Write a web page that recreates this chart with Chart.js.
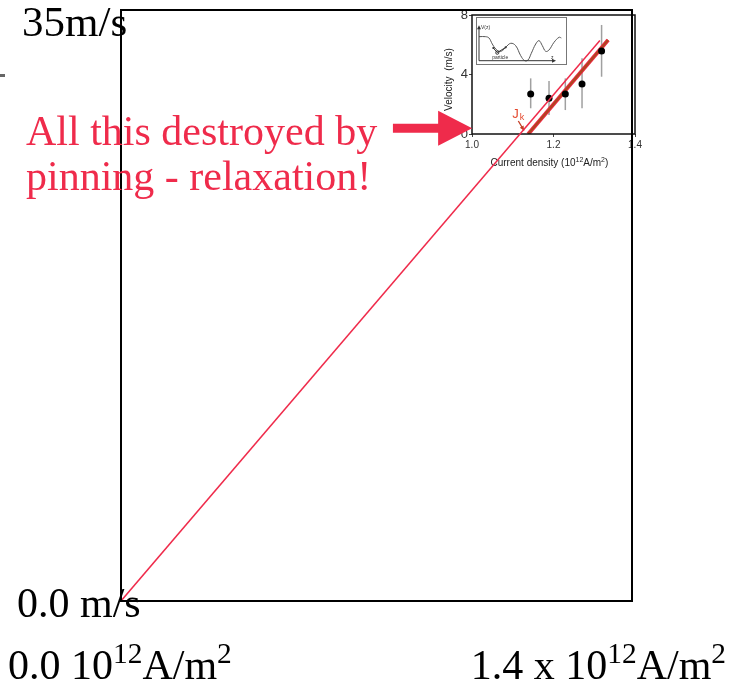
<!DOCTYPE html>
<html lang="en">
<head>
<meta charset="UTF-8">
<title>Domain wall velocity vs current density</title>
<script src="https://cdn.jsdelivr.net/npm/chart.js"></script>
<style>
  html, body { margin: 0; padding: 0; background: #fff; }
  #wrap { position: relative; width: 750px; height: 689px; overflow: hidden; }
  #wrap canvas { position: absolute; }
</style>
</head>
<body>
<div id="wrap">
  <canvas id="insetChart" width="230" height="180" style="left:420px;top:0px"></canvas>
  <canvas id="sketchChart" width="91" height="48" style="left:476px;top:17px"></canvas>
  <canvas id="mainChart" width="750" height="689" style="left:0px;top:0px"></canvas>
</div>
<script>
// main panel: ideal (no pinning) velocity line
const mainCurrent = [0.0, 1.312];
const mainVelocity = [0.0, 33.2];
const mainYLabels = ['0.0 m/s', '35m/s'];
// [text, isSuperscript]
const mainXLabelLeft = [['0.0 10', 0], ['12', 1], ['A/m', 0], ['2', 1]];
const mainXLabelRight = [['1.4 x 10', 0], ['12', 1], ['A/m', 0], ['2', 1]];
const noteLines = ['All this destroyed by', 'pinning - relaxation!'];
const noteArrowFrom = [0.745, 28.0];
const noteArrowTo = [0.962, 28.0];

// inset: measured wall velocities
const insetCurrent = [1.144, 1.189, 1.229, 1.270, 1.318];
const insetVelocity = [2.69, 2.40, 2.69, 3.36, 5.58];
const insetErrLow = [1.73, 1.28, 1.61, 1.73, 3.85];
const insetErrHigh = [3.74, 3.56, 3.74, 5.09, 7.33];
const fitCurrent = [1.138, 1.334];
const fitVelocity = [0.0, 6.32];
const insetXTitle = [['Current density (10', 0], ['12', 1], ['A/m', 0], ['2', 1], [')', 0]];
const insetYTitle = 'Velocity  (m/s)';

// potential landscape sketch V(z)
const sketchZ = [0, 0.89, 1.33, 1.77, 2.23, 2.67, 3.11, 3.56, 4.23, 4.89, 5.56, 6.09, 6.53, 6.97, 7.56, 8.0, 8.44, 8.89, 9.33, 10.0, 10.67, 10.97];
const sketchV = [7.19, 7.19, 6.8, 5.0, 3.5, 2.81, 2.99, 4.01, 5.21, 4.49, 1.5, 0, 0.2, 2.2, 5.0, 6.0, 4.5, 2.8, 3.2, 5.5, 7.0, 6.8];

const RED = '#ef2b4b';
const SERIF = '"Liberation Serif", "Times New Roman", serif';
const SANS = '"Liberation Sans", Arial, sans-serif';

function pts(xs, ys) { return xs.map((x, i) => ({ x: x, y: ys[i] })); }

// draws text runs with superscripts, left aligned at (x, baseline y)
function drawRich(ctx, runs, x, y, size, family, color) {
  ctx.fillStyle = color;
  ctx.textAlign = 'left';
  ctx.textBaseline = 'alphabetic';
  let cx = x;
  runs.forEach(([t, sup]) => {
    const s = sup ? size * 0.7 : size;
    ctx.font = s + 'px ' + family;
    ctx.fillText(t, cx, sup ? y - size * 0.38 : y);
    cx += ctx.measureText(t).width;
  });
  return cx - x;
}
function richWidth(ctx, runs, size, family) {
  let w = 0;
  runs.forEach(([t, sup]) => {
    ctx.font = (sup ? size * 0.7 : size) + 'px ' + family;
    w += ctx.measureText(t).width;
  });
  return w;
}

const mainDecor = {
  id: 'mainDecor',
  afterDraw(chart) {
    const { ctx, chartArea: a, scales: { x, y } } = chart;
    ctx.save();
    // frame
    ctx.strokeStyle = '#000';
    ctx.lineWidth = 2;
    ctx.strokeRect(a.left, a.top, a.right - a.left, a.bottom - a.top);

    // axis end labels
    ctx.fillStyle = '#000';
    ctx.font = '43px ' + SERIF;
    ctx.textBaseline = 'alphabetic';
    ctx.textAlign = 'left';
    ctx.fillText(mainYLabels[1], a.left - 99, y.getPixelForValue(35) + 26);
    ctx.font = '42px ' + SERIF;
    ctx.fillText(mainYLabels[0], a.left - 104, y.getPixelForValue(0) + 16);
    drawRich(ctx, mainXLabelLeft, x.getPixelForValue(0) - 113, a.bottom + 78, 42, SERIF, '#000');
    const rw = richWidth(ctx, mainXLabelRight, 42, SERIF);
    drawRich(ctx, mainXLabelRight, x.getPixelForValue(1.4) + 94 - rw, a.bottom + 78, 42, SERIF, '#000');

    // stray mark at the left edge
    ctx.fillStyle = '#666';
    ctx.fillRect(0, 74, 5, 3);

    // note text
    ctx.fillStyle = RED;
    ctx.font = '42px ' + SERIF;
    noteLines.forEach((t, i) => ctx.fillText(t, a.left - 95, a.top + 135 + i * 45));

    // block arrow pointing at the inset
    const x0 = x.getPixelForValue(noteArrowFrom[0]);
    const x1 = x.getPixelForValue(noteArrowTo[0]);
    const yc = y.getPixelForValue(noteArrowFrom[1]);
    const head = 34;
    ctx.beginPath();
    ctx.moveTo(x0, yc - 4.5);
    ctx.lineTo(x1 - head, yc - 4.5);
    ctx.lineTo(x1 - head, yc - 17.5);
    ctx.lineTo(x1, yc);
    ctx.lineTo(x1 - head, yc + 17.5);
    ctx.lineTo(x1 - head, yc + 4.5);
    ctx.lineTo(x0, yc + 4.5);
    ctx.closePath();
    ctx.fill();
    ctx.restore();
  }
};

new Chart(document.getElementById('mainChart'), {
  type: 'scatter',
  data: {
    datasets: [{
      data: pts(mainCurrent, mainVelocity),
      showLine: true,
      borderColor: RED,
      borderWidth: 1.5,
      pointRadius: 0
    }]
  },
  options: {
    responsive: false,
    animation: false,
    layout: { padding: { left: 121, top: 10, right: 118, bottom: 88 } },
    scales: {
      x: { type: 'linear', min: 0, max: 1.4, display: false },
      y: { type: 'linear', min: 0, max: 35, display: false }
    },
    plugins: { legend: { display: false }, tooltip: { enabled: false } }
  },
  plugins: [mainDecor]
});

const insetDecor = {
  id: 'insetDecor',
  beforeDatasetsDraw(chart) {
    const { ctx, scales: { x, y } } = chart;
    ctx.save();
    ctx.strokeStyle = '#a0a0a0';
    ctx.lineWidth = 1.5;
    insetCurrent.forEach((c, i) => {
      const px = x.getPixelForValue(c);
      ctx.beginPath();
      ctx.moveTo(px, y.getPixelForValue(insetErrLow[i]));
      ctx.lineTo(px, y.getPixelForValue(insetErrHigh[i]));
      ctx.stroke();
    });
    ctx.restore();
  },
  afterDraw(chart) {
    const { ctx, chartArea: a, scales: { x, y } } = chart;
    ctx.save();
    ctx.strokeStyle = '#111';
    ctx.lineWidth = 1.5;
    ctx.strokeRect(a.left, a.top, a.right - a.left, a.bottom - a.top);

    // axis titles
    ctx.fillStyle = '#222';
    ctx.font = '10px ' + SANS;
    ctx.textAlign = 'center';
    ctx.textBaseline = 'middle';
    ctx.save();
    ctx.translate(a.left - 23, y.getPixelForValue(4) + 5);
    ctx.rotate(-Math.PI / 2);
    ctx.fillText(insetYTitle, 0, 0);
    ctx.restore();
    const tw = richWidth(ctx, insetXTitle, 10, SANS);
    drawRich(ctx, insetXTitle, x.getPixelForValue(1.19) - tw / 2, a.bottom + 32, 10, SANS, '#222');

    // J_k marker
    ctx.fillStyle = '#e4472c';
    ctx.font = '13px ' + SANS;
    ctx.textAlign = 'left';
    ctx.textBaseline = 'alphabetic';
    const jx = x.getPixelForValue(1.099), jy = y.getPixelForValue(1.06);
    ctx.fillText('J', jx, jy);
    ctx.font = '9px ' + SANS;
    ctx.fillText('k', jx + ctx.measureText('J').width + 3, jy + 2);
    const ax0 = x.getPixelForValue(1.1137), ay0 = y.getPixelForValue(0.874);
    const ax1 = x.getPixelForValue(1.1276), ay1 = y.getPixelForValue(0.235);
    ctx.strokeStyle = '#c23a20';
    ctx.fillStyle = '#c23a20';
    ctx.lineWidth = 1.3;
    ctx.beginPath();
    ctx.moveTo(ax0, ay0);
    ctx.lineTo(ax1, ay1);
    ctx.stroke();
    const ang = Math.atan2(ay1 - ay0, ax1 - ax0);
    ctx.beginPath();
    ctx.moveTo(ax1, ay1);
    ctx.lineTo(ax1 - 5 * Math.cos(ang - 0.45), ay1 - 5 * Math.sin(ang - 0.45));
    ctx.lineTo(ax1 - 5 * Math.cos(ang + 0.45), ay1 - 5 * Math.sin(ang + 0.45));
    ctx.closePath();
    ctx.fill();
    ctx.restore();
  }
};

new Chart(document.getElementById('insetChart'), {
  type: 'scatter',
  data: {
    datasets: [
      { data: pts(insetCurrent, insetVelocity), pointRadius: 3.5, backgroundColor: '#000', borderWidth: 0, order: 0 },
      { data: pts(fitCurrent, fitVelocity), showLine: true, borderColor: '#b0451f', borderWidth: 2, pointRadius: 0, order: 1 },
      { data: pts(fitCurrent, fitVelocity), showLine: true, borderColor: '#ee2a45', borderWidth: 4, pointRadius: 0, order: 2 }
    ]
  },
  options: {
    responsive: false,
    animation: false,
    layout: { padding: { left: 36, top: 15, right: 15, bottom: 28 } },
    scales: {
      x: {
        type: 'linear', min: 1.0, max: 1.4,
        afterFit: s => { s.height = 18; },
        border: { display: false },
        grid: { drawOnChartArea: false, tickLength: 3, tickColor: '#444' },
        ticks: { stepSize: 0.2, padding: 2, color: '#333', font: { size: 10, family: SANS }, maxRotation: 0,
                 callback: v => v.toFixed(1) }
      },
      y: {
        type: 'linear', min: 0, max: 8,
        afterFit: s => { s.width = 16; },
        border: { display: false },
        grid: { drawOnChartArea: false, tickLength: 3, tickColor: '#444' },
        ticks: { stepSize: 4, padding: 1, color: '#333', font: { size: 13, family: SANS } }
      }
    },
    plugins: { legend: { display: false }, tooltip: { enabled: false } }
  },
  plugins: [insetDecor]
});

const sketchDecor = {
  id: 'sketchDecor',
  afterDraw(chart) {
    const { ctx, chartArea: a, scales: { x, y } } = chart;
    ctx.save();
    ctx.strokeStyle = '#777';
    ctx.lineWidth = 1;
    ctx.strokeRect(a.left + 0.5, a.top + 0.5, a.right - a.left - 1, a.bottom - a.top - 1);

    const ox = x.getPixelForValue(0), oy = y.getPixelForValue(0);
    const ex = x.getPixelForValue(10), ey = y.getPixelForValue(10);
    ctx.strokeStyle = '#333';
    ctx.fillStyle = '#333';
    ctx.beginPath();
    ctx.moveTo(ox, oy); ctx.lineTo(ex, oy);
    ctx.moveTo(ox, oy); ctx.lineTo(ox, ey);
    ctx.stroke();
    ctx.beginPath();
    ctx.moveTo(ex + 2, oy); ctx.lineTo(ex - 2, oy - 2); ctx.lineTo(ex - 2, oy + 2); ctx.closePath();
    ctx.moveTo(ox, ey - 2); ctx.lineTo(ox - 2, ey + 2); ctx.lineTo(ox + 2, ey + 2); ctx.closePath();
    ctx.fill();

    ctx.font = '5px ' + SANS;
    ctx.textBaseline = 'alphabetic';
    ctx.fillText('V(z)', ox + 2, ey + 2);
    ctx.fillText('z', ex - 3, oy - 2);
    ctx.fillText('particle', x.getPixelForValue(1.75), y.getPixelForValue(0.45));

    // particle sitting in the first well, with hopping arrows
    const px = x.getPixelForValue(2.44), py = y.getPixelForValue(2.4);
    ctx.beginPath();
    ctx.arc(px, py, 1.6, 0, Math.PI * 2);
    ctx.stroke();
    [[1.91, 3.8], [3.56, 4.0]].forEach(([zv, vv]) => {
      const tx = x.getPixelForValue(zv), ty = y.getPixelForValue(vv);
      ctx.beginPath();
      ctx.moveTo(px, py); ctx.lineTo(tx, ty);
      ctx.stroke();
      ctx.beginPath();
      ctx.arc(tx, ty, 1.1, 0, Math.PI * 2);
      ctx.fill();
    });
    ctx.restore();
  }
};

new Chart(document.getElementById('sketchChart'), {
  type: 'scatter',
  data: {
    datasets: [{
      data: pts(sketchZ, sketchV),
      showLine: true,
      tension: 0.4,
      borderColor: '#555',
      borderWidth: 1,
      pointRadius: 0
    }]
  },
  options: {
    responsive: false,
    animation: false,
    layout: { padding: 0 },
    scales: {
      x: { type: 'linear', min: -0.4, max: 11.73, display: false },
      y: { type: 'linear', min: -1.29, max: 13.08, display: false }
    },
    plugins: { legend: { display: false }, tooltip: { enabled: false } }
  },
  plugins: [sketchDecor]
});
</script>
</body>
</html>
